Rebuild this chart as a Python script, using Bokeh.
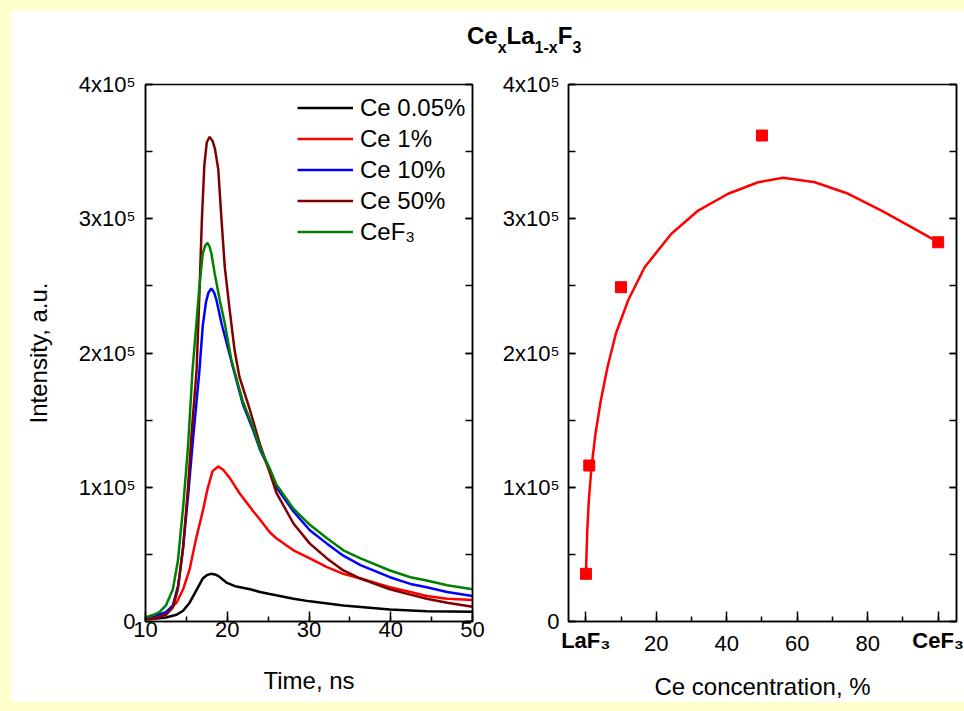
import math
from bokeh.plotting import figure
from bokeh.models import (Legend, LegendItem, LinearAxis, FixedTicker,
                          SingleIntervalTicker, Range1d, Div)
from bokeh.layouts import row, column
from bokeh.embed import file_html
from bokeh.resources import INLINE

FONT = "Liberation Sans"

# ---------------- data: left panel (time in ns, intensity in units of 1e5) -------------
t_ce005 = [10, 11, 12.5, 13.8, 14.6, 15.4, 16.2, 17.0, 17.5, 18.0, 18.5, 18.9, 19.9, 21.1,
           22.8, 24.0, 25.2, 28.1, 30.1, 34.2, 39.9, 44.4, 50]
i_ce005 = [0.02, 0.02, 0.03, 0.05, 0.08, 0.14, 0.23, 0.32, 0.345, 0.355, 0.35, 0.34, 0.29, 0.26,
           0.24, 0.22, 0.205, 0.17, 0.15, 0.12, 0.09, 0.077, 0.073]

t_ce1 = [10, 11, 12.5, 13.8, 14.6, 15.4, 16.2, 17.0, 17.6, 18.2, 18.9, 19.5, 20.3, 21.5,
         23.2, 24.0, 25.2, 26.0, 28.1, 30.1, 32.2, 34.2, 36.3, 39.9, 42.4, 44.4, 46.9, 50]
i_ce1 = [0.02, 0.03, 0.06, 0.14, 0.24, 0.39, 0.62, 0.82, 0.99, 1.12, 1.155, 1.13, 1.07, 0.955,
         0.82, 0.76, 0.665, 0.62, 0.53, 0.47, 0.405, 0.355, 0.32, 0.255, 0.22, 0.19, 0.17, 0.16]

t_ce10 = [10, 11, 12.5, 13.35, 14.0, 14.6, 15.2, 15.8, 16.6, 17.0, 17.4, 17.7, 18.06, 18.4,
          18.7, 19.3, 19.9, 20.5, 21.9, 23.2, 24.0, 25.2, 26.0, 28.1, 30.1, 32.2, 34.2, 36.3,
          39.9, 42.4, 44.4, 46.9, 50]
i_ce10 = [0.03, 0.04, 0.07, 0.12, 0.27, 0.55, 0.93, 1.35, 1.87, 2.2, 2.38, 2.45, 2.48, 2.45,
          2.39, 2.22, 2.08, 1.94, 1.62, 1.42, 1.28, 1.13, 1.0, 0.82, 0.68, 0.58, 0.49, 0.42,
          0.33, 0.28, 0.255, 0.22, 0.19]

t_ce50 = [10, 11, 12.5, 13.35, 13.96, 14.6, 15.2, 15.7, 16.25, 16.6, 16.9, 17.2, 17.5, 17.85,
          18.2, 18.5, 18.9, 19.3, 19.7, 20.3, 20.9, 21.5, 22.8, 24.0, 25.2, 26.0, 28.1, 30.1,
          32.2, 34.2, 36.3, 39.9, 42.4, 44.4, 46.9, 50]
i_ce50 = [0.02, 0.02, 0.05, 0.105, 0.24, 0.55, 1.0, 1.45, 1.87, 2.45, 3.0, 3.4, 3.57, 3.61,
          3.58, 3.52, 3.37, 2.99, 2.64, 2.32, 2.02, 1.82, 1.57, 1.32, 1.11, 0.96, 0.73, 0.58,
          0.47, 0.38, 0.32, 0.24, 0.2, 0.17, 0.14, 0.11]

t_cef3 = [10, 11, 11.7, 12.5, 13.35, 13.96, 14.6, 15.2, 15.75, 16.2, 16.6, 17.0, 17.3, 17.57,
          17.85, 18.06, 18.47, 19.1, 19.7, 20.5, 21.9, 23.2, 24.0, 25.2, 26.0, 28.1, 30.1,
          32.2, 34.2, 36.3, 39.9, 42.4, 44.4, 46.9, 50]
i_cef3 = [0.03, 0.05, 0.07, 0.12, 0.24, 0.45, 0.85, 1.3, 1.87, 2.2, 2.5, 2.74, 2.80, 2.82,
          2.79, 2.74, 2.59, 2.39, 2.22, 1.95, 1.64, 1.44, 1.29, 1.14, 1.02, 0.84, 0.72,
          0.62, 0.53, 0.47, 0.38, 0.33, 0.305, 0.27, 0.24]

series_names = ["Ce 0.05%", "Ce 1%", "Ce 10%", "Ce 50%", "CeF\u2083"]
series_colors = ["#000000", "#FF0000", "#0000FF", "#800000", "#008000"]

# ---------------- data: right panel (Ce concentration %, peak intensity in 1e5) ----------
conc = [0.05, 1, 10, 50, 100]
peak = [0.355, 1.162, 2.49, 3.62, 2.825]
fit_x = [0.05, 0.39, 0.86, 1.62, 2.75, 4.27, 6.16, 8.53, 12.0, 16.7, 24.3, 31.9, 40.4,
         48.9, 56.0, 65.0, 74.5, 83.9, 92.4, 100]
fit_y = [0.355, 0.653, 0.901, 1.149, 1.398, 1.646, 1.894, 2.143, 2.391, 2.639, 2.888,
         3.061, 3.186, 3.272, 3.305, 3.272, 3.186, 3.061, 2.937, 2.826]

y_tick_vals = [0, 1, 2, 3, 4]
y_tick_text = ["0", "1x10\u2075", "2x10\u2075", "3x10\u2075", "4x10\u2075"]
x2_tick_vals = [0, 20, 40, 60, 80, 100]
x2_end_labels = {0: "LaF\u2083", 100: "CeF\u2083"}
x2_num_vals = [20, 40, 60, 80]


def style_common(p):
    p.xgrid.visible = False
    p.ygrid.visible = False
    p.outline_line_color = "black"
    p.outline_line_width = 1.5


def style_y(ax, labelled, standoff=10):
    ax.ticker = SingleIntervalTicker(interval=1, num_minor_ticks=2)
    ax.major_tick_in = 7
    ax.major_tick_out = 0
    ax.minor_tick_in = 7
    ax.minor_tick_out = 0
    ax.major_tick_line_width = 1.5
    ax.minor_tick_line_width = 1.5
    ax.axis_line_width = 1.5
    ax.major_label_text_font = FONT
    ax.major_label_text_font_size = "22px"
    ax.major_label_text_color = "black"
    ax.major_label_standoff = standoff
    if labelled:
        ax.major_label_overrides = dict(zip(y_tick_vals, y_tick_text))
    else:
        ax.major_label_overrides = {v: "" for v in y_tick_vals}


def style_x(ax, interval, standoff):
    ax.ticker = SingleIntervalTicker(interval=interval, num_minor_ticks=2)
    ax.major_tick_in = 10
    ax.major_tick_out = 0
    ax.minor_tick_in = 5
    ax.minor_tick_out = 0
    ax.major_tick_line_width = 1.5
    ax.minor_tick_line_width = 1.5
    ax.axis_line_width = 1.5
    ax.major_label_text_font = FONT
    ax.major_label_text_font_size = "22px"
    ax.major_label_text_color = "black"
    ax.major_label_standoff = standoff


def set_axis_label(ax, label, standoff):
    ax.axis_label = label
    ax.axis_label_text_font = FONT
    ax.axis_label_text_font_size = "24px"
    ax.axis_label_text_font_style = "normal"
    ax.axis_label_text_color = "black"
    ax.axis_label_standoff = standoff


# ---------------- left figure ----------------
p1 = figure(frame_width=327, frame_height=537, min_border_left=134, min_border_right=27,
            min_border_top=28, min_border_bottom=79, x_range=Range1d(10, 50),
            y_range=Range1d(0, 4), output_backend="svg", toolbar_location=None,
            background_fill_color="white", border_fill_color="white")
style_common(p1)
style_x(p1.xaxis[0], 10, 0)
set_axis_label(p1.xaxis[0], "Time, ns", 27)
style_y(p1.yaxis[0], True, 10)
set_axis_label(p1.yaxis[0], "Intensity, a.u.", 24)
ax_r1 = LinearAxis()
style_y(ax_r1, False)
p1.add_layout(ax_r1, "right")

renderers = []
for t, i, c in zip([t_ce005, t_ce1, t_ce10, t_ce50, t_cef3],
                   [i_ce005, i_ce1, i_ce10, i_ce50, i_cef3], series_colors):
    renderers.append(p1.line(t, i, line_color=c, line_width=2.5))

legend = Legend(items=[LegendItem(label=n, renderers=[r]) for n, r in zip(series_names, renderers)],
                location=(152, 374), glyph_width=56, glyph_height=31, label_height=31,
                spacing=0, padding=0, label_standoff=7, border_line_alpha=0,
                background_fill_alpha=0, label_text_font=FONT, label_text_font_size="24px",
                label_text_color="black")
p1.add_layout(legend)

# ---------------- right figure ----------------
p2 = figure(frame_width=388, frame_height=537, min_border_left=68, min_border_right=9,
            min_border_top=28, min_border_bottom=79, x_range=Range1d(-4.9, 105.2),
            y_range=Range1d(0, 4), output_backend="svg", toolbar_location=None,
            background_fill_color="white", border_fill_color="white")
style_common(p2)
# main bottom axis: all ticks, bold end labels (LaF3 / CeF3) only
ax_main = p2.xaxis[0]
style_x(ax_main, 20, 6)
ax_main.major_label_text_font_style = "bold"
ax_main.major_label_overrides = {v: x2_end_labels.get(v, "") for v in x2_tick_vals}
# second bottom axis: plain numeric labels 20..80 pulled up to the same row, plus axis title
ax_nums = LinearAxis(ticker=FixedTicker(ticks=x2_num_vals), axis_line_color=None,
                     major_tick_line_color=None, minor_tick_line_color=None,
                     major_tick_in=0, major_tick_out=0, minor_tick_in=0, minor_tick_out=0,
                     major_label_standoff=-20, major_label_text_font=FONT,
                     major_label_text_font_size="22px", major_label_text_color="black")
set_axis_label(ax_nums, "Ce concentration, %", 19)
p2.add_layout(ax_nums, "below")

style_y(p2.yaxis[0], True, 9)
ax_r2 = LinearAxis()
style_y(ax_r2, False)
p2.add_layout(ax_r2, "right")

p2.line(fit_x, fit_y, line_color="#FF0000", line_width=2.5)
p2.scatter(conc, peak, marker="square", size=11, fill_color="#FF0000", line_color="#FF0000")

# ---------------- title ----------------
sub = "font-size:16px;position:relative;top:9px;"
title_html = ('<div style="margin-left:456px;padding-top:13px;font-family:\'Liberation Sans\',Arial,sans-serif;'
              'font-weight:bold;font-size:24px;line-height:24px;white-space:nowrap;color:black;">'
              f'Ce<span style="{sub}">x</span>La<span style="{sub}">1-x</span>F<span style="{sub}">3</span></div>')
title = Div(text=title_html, width=953, height=45, margin=(0, 0, 0, 0),
            styles={"background-color": "white"})

layout = column(title, row(p1, p2, margin=(0, 0, 0, 0)), margin=(11, 0, 11, 11),
                styles={"background-color": "white"})

html = file_html(layout, INLINE, title="CexLa1-xF3")
html = html.replace("</head>", "<style>html, body {background:#FFFFCC; margin:0;}</style></head>", 1)
open("out.html", "w").write(html)
